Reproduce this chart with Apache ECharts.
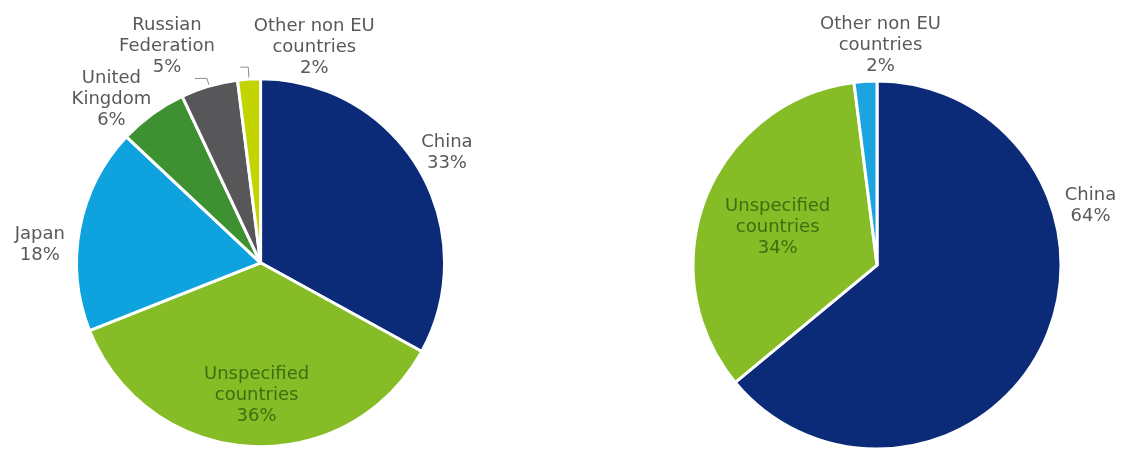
<!DOCTYPE html>
<html><head><meta charset="utf-8">
<script src="https://cdn.jsdelivr.net/npm/echarts@6/dist/echarts.min.js"></script>
<style>html,body{margin:0;padding:0;background:#fff}#c{width:1128px;height:450px}</style>
</head><body><div id="c"></div>
<script>
const leftNames = ['China', 'Unspecified\ncountries', 'Japan', 'United\nKingdom', 'Russian\nFederation', 'Other non EU\ncountries'];
const leftValues = [33, 36, 18, 6, 5, 2];
const rightNames = ['China', 'Unspecified\ncountries', 'Other non EU\ncountries'];
const rightValues = [64, 34, 2];

const leftColors = ['#0b2a78', '#86bc25', '#0ea2df', '#3e9130', '#57575a', '#c2d500'];
const rightColors = ['#0b2a78', '#86bc25', '#1ba4e0'];

const font = 'DejaVu Sans';
const grey = '#595959';
const greenText = '#3f6d12';

// label nudges (layout only)
const leftOffsets = [[28,-16],[2,38],[-40,17],[-41,-15],[-28,-32],[74,-20]];
const rightOffsets = [[47,-138],[-11,-3],[15,-36]];
const leftLeader = [null, null, null, null, [8, 12], [12, 8]];
const rightLeader = [null, null, null];

function mk(names, values, colors, leader) {
  return names.map((n, i) => ({
    name: n, value: values[i],
    itemStyle: { color: colors[i] },
    label: n.startsWith('Unspecified') ? { position: 'inside', color: greenText } : {},
    labelLine: leader[i] ? { show: true, length: leader[i][0], length2: leader[i][1] } : { show: false }
  }));
}

function pie(center, data, offsets) {
  return {
    type: 'pie', center: center, radius: 184, startAngle: 90, clockwise: true,
    animation: false, avoidLabelOverlap: false,
    itemStyle: { borderColor: '#fff', borderWidth: 3 },
    label: {
      show: true, formatter: '{b}\n{d}%', fontFamily: font, fontSize: 18,
      lineHeight: 21, color: grey, position: 'outside', alignTo: 'none',
      overflow: 'none', distanceToLabelLine: 0
    },
    labelLine: { show: false, length: 0, length2: 0, smooth: false,
      lineStyle: { color: '#8c8c8c', width: 1 } },
    labelLayout: function (p) {
      const o = offsets[p.dataIndex] || [0, 0];
      return { dx: o[0], dy: o[1], align: 'center', verticalAlign: 'middle' };
    },
    data: data
  };
}

const chart = echarts.init(document.getElementById('c'));
chart.setOption({
  series: [
    pie(['23.1%', '58.4%'], mk(leftNames, leftValues, leftColors, leftLeader), leftOffsets),
    pie(['77.75%', '58.9%'], mk(rightNames, rightValues, rightColors, rightLeader), rightOffsets)
  ]
});
</script></body></html>
